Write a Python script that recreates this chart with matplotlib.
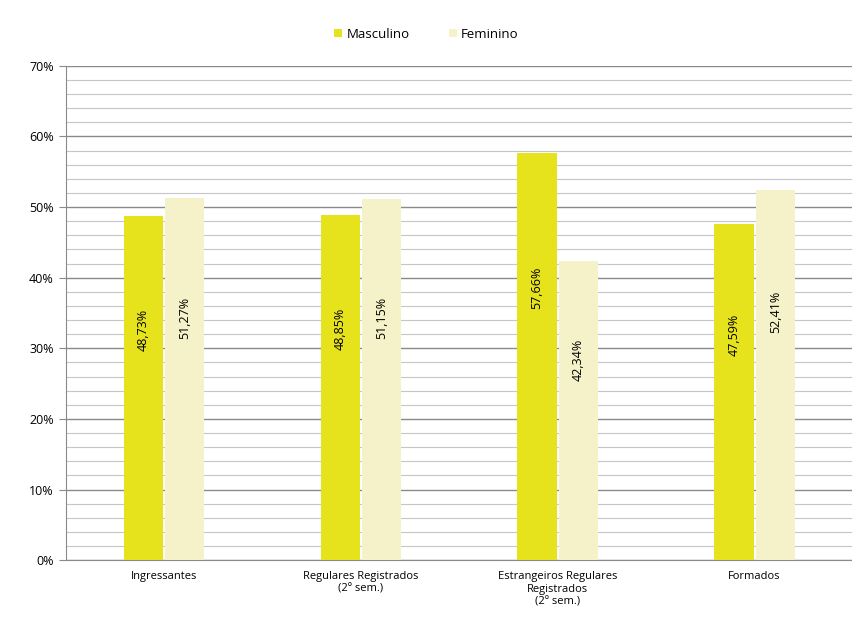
import numpy as np
import matplotlib
matplotlib.use("Agg")
import matplotlib.pyplot as plt
from matplotlib.ticker import MultipleLocator, FuncFormatter

# Dados (percentual por sexo)
categorias = ["Ingressantes", "Regulares Registrados\n(2º sem.)",
              "Estrangeiros Regulares\nRegistrados\n(2º sem.)", "Formados"]
masculino = [48.73, 48.85, 57.66, 47.59]
feminino = [51.27, 51.15, 42.34, 52.41]
rotulos_masc = ["48,73%", "48,85%", "57,66%", "47,59%"]
rotulos_fem = ["51,27%", "51,15%", "42,34%", "52,41%"]

plt.rcParams['font.family'] = ['Open Sans', 'DejaVu Sans']

cor_masc = "#E6E21C"
cor_fem = "#F5F2C9"

fig = plt.figure(figsize=(8.53, 6.26), dpi=100)
ax = fig.add_axes([0.077, 0.105, 0.923, 0.79])

x = np.arange(len(categorias))
w = 0.2
b1 = ax.bar(x - w / 2 - 0.005, masculino, w, color=cor_masc, label="Masculino", zorder=3)
b2 = ax.bar(x + w / 2 + 0.005, feminino, w, color=cor_fem, label="Feminino", zorder=3)

for i in range(len(categorias)):
    ax.text(x[i] - w / 2 - 0.005, masculino[i] * 0.67, rotulos_masc[i], rotation=90,
            ha="center", va="center", fontsize=9, zorder=4)
    ax.text(x[i] + w / 2 + 0.005, feminino[i] * 0.67, rotulos_fem[i], rotation=90,
            ha="center", va="center", fontsize=9, zorder=4)

ax.set_ylim(0, 70)
ax.set_xlim(-0.5, len(categorias) - 0.5)
ax.yaxis.set_major_locator(MultipleLocator(10))
ax.yaxis.set_minor_locator(MultipleLocator(2))
ax.yaxis.set_major_formatter(FuncFormatter(lambda v, p: f"{int(v)}%"))
ax.grid(axis="y", which="major", color="#8a8a8a", linewidth=1.0, zorder=0)
ax.grid(axis="y", which="minor", color="#c6c6c6", linewidth=0.8, zorder=0)
ax.tick_params(axis="y", which="major", length=5, color="#8a8a8a", labelsize=9)
ax.tick_params(axis="y", which="minor", length=0)
ax.tick_params(axis="x", length=0, labelsize=8, pad=8)
ax.set_xticks(x)
ax.set_xticklabels(categorias)

for s in ["top", "right"]:
    ax.spines[s].set_visible(False)
ax.spines["left"].set_color("#8a8a8a")
ax.spines["bottom"].set_color("#8a8a8a")

fig.legend(handles=[b1, b2], loc="upper center", bbox_to_anchor=(0.5, 0.975), ncol=2,
           frameon=False, fontsize=9.5, handlelength=0.6, handleheight=0.6,
           columnspacing=3.0, handletextpad=0.3)

plt.savefig("out.png", dpi=100)
plt.close()
